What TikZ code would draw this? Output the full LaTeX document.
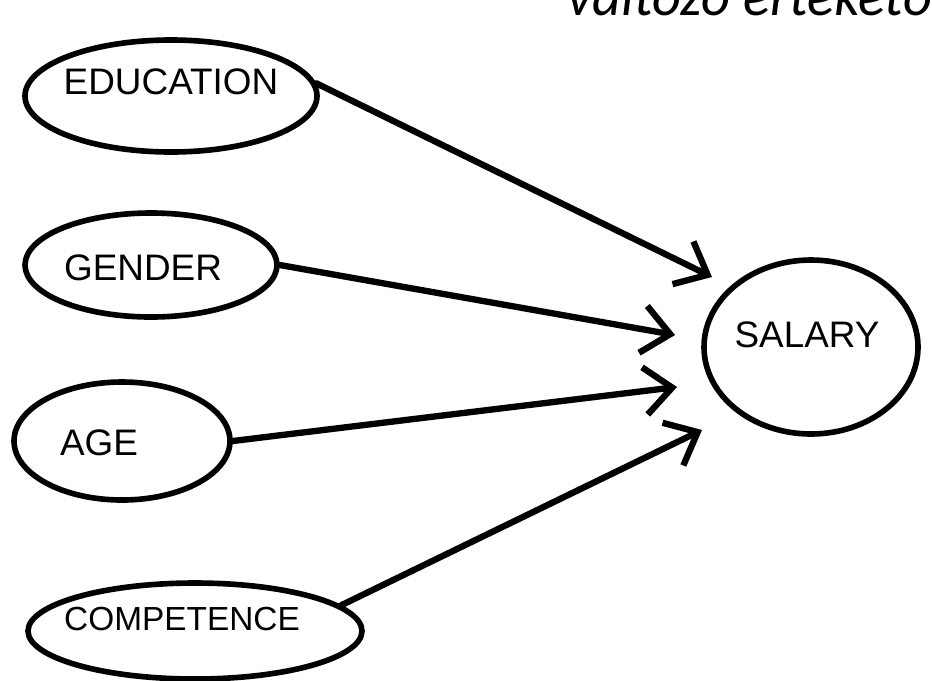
\documentclass[tikz,border=0pt]{standalone}
\usepackage{fontspec}
\setmainfont{Liberation Sans}
\newfontfamily\titlefont{Carlito}
\usetikzlibrary{shapes.geometric,arrows.meta}

\begin{document}
\begin{tikzpicture}[x=0.02cm,y=-0.02cm,
    oval/.style={draw,ellipse,line width=3.2pt,inner sep=0pt},
    caption/.style={inner sep=0pt,font=\fontsize{21}{23}\selectfont},
    link/.style={line width=3.6pt,line cap=round,line join=round,
        -{Straight Barb[length=0.55cm,width=0.95cm,line width=3.6pt]}}]
\clip (0,0) rectangle (932,680);
\fill[white] (0,0) rectangle (932,680);
\node[anchor=base west,inner sep=0pt,font=\titlefont\itshape\fontsize{32}{36}\selectfont]
    (title) at (567,15) {változó értékétől};
\node[oval,minimum width=292*0.02cm,minimum height=112*0.02cm] (edu) at (171,96) {};
\node[oval,minimum width=252*0.02cm,minimum height=104*0.02cm] (gen) at (151,265) {};
\node[oval,minimum width=216*0.02cm,minimum height=118*0.02cm] (age) at (122,441) {};
\node[oval,minimum width=334*0.02cm,minimum height=96*0.02cm] (comp) at (195,631) {};
\node[oval,minimum width=214*0.02cm,minimum height=174*0.02cm] (sal) at (811,347) {};
\node[caption] (edu-t) at (171,82) {EDUCATION};
\node[caption] (gen-t) at (143,268) {GENDER};
\node[caption] (age-t) at (99,443) {AGE};
\node[caption,font=\fontsize{19}{21}\selectfont] (comp-t) at (182,619) {COMPETENCE};
\node[caption] (sal-t) at (807,335) {SALARY};
\coordinate (edu-tip) at (712,277);
\coordinate (gen-tip) at (675,335);
\coordinate (age-tip) at (677,387);
\coordinate (comp-tip) at (702,430);
\draw[link] (edu.5) -- (edu-tip);
\draw[link] (gen.east) -- (gen-tip);
\draw[link] (age.east) -- (age-tip);
\draw[link] (comp.10) -- (comp-tip);
\end{tikzpicture}
\end{document}
